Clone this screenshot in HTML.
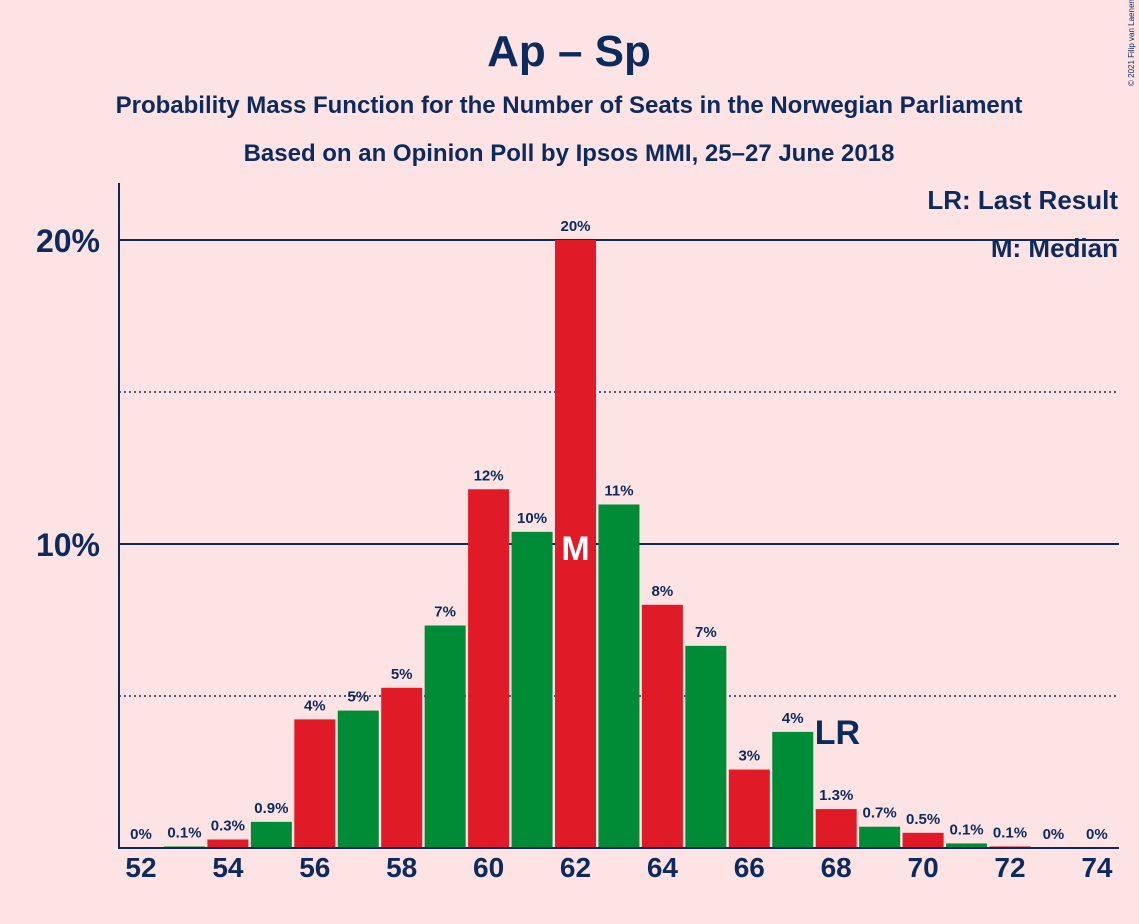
<!DOCTYPE html>
<html><head><meta charset="utf-8">
<style>
html,body{margin:0;padding:0;background:#fde3e4;}
svg{display:block;font-family:"Liberation Sans",sans-serif;}
</style></head>
<body>
<svg id="chart" width="1139" height="924" viewBox="0 0 1139 924">
<rect width="1139" height="924" fill="#fde3e4"/>
<text x="569" y="66" text-anchor="middle" font-size="44" font-weight="bold" fill="#0c2a5c">Ap – Sp</text>
<text x="569" y="113" text-anchor="middle" font-size="24" font-weight="bold" fill="#0c2a5c">Probability Mass Function for the Number of Seats in the Norwegian Parliament</text>
<text x="569" y="161" text-anchor="middle" font-size="24" font-weight="bold" fill="#0c2a5c">Based on an Opinion Poll by Ipsos MMI, 25–27 June 2018</text>
<text transform="translate(1134,86) rotate(-90)" font-size="8" fill="#0c2a5c">© 2021 Filip van Laenen</text>
<g id="grid"></g>
<g id="bars"></g>
<g id="labels"></g>
<line x1="119" y1="183" x2="119" y2="849" stroke="#0c2a5c" stroke-width="2"/>
<line x1="119" y1="848" x2="1119" y2="848" stroke="#0c2a5c" stroke-width="2"/>
<text x="1118" y="209" text-anchor="end" font-size="26" font-weight="bold" fill="#0c2a5c">LR: Last Result</text>
<text x="1118" y="257" text-anchor="end" font-size="26" font-weight="bold" fill="#0c2a5c">M: Median</text>
</svg>
<script>
const seats = [52,53,54,55,56,57,58,59,60,61,62,63,64,65,66,67,68,69,70,71,72,73,74];
const probs = [0,0.05,0.28,0.86,4.23,4.52,5.27,7.32,11.8,10.4,20,11.3,8.0,6.65,2.58,3.82,1.28,0.7,0.5,0.15,0.05,0,0];
const probLabels = ["0%","0.1%","0.3%","0.9%","4%","5%","5%","7%","12%","10%","20%","11%","8%","7%","3%","4%","1.3%","0.7%","0.5%","0.1%","0.1%","0%","0%"];
const yTicks = [10,20];
const yDotted = [5,15];
const yTickLabels = ["10%","20%"];
const xTickSeats = [52,54,56,58,60,62,64,66,68,70,72,74];
const medianSeat = 62;
const lastResultSeat = 67;

const NS="http://www.w3.org/2000/svg";
const xScale = s => 141 + (s-52)*43.45;
const yScale = v => 848 - v*30.4;
const grid=document.getElementById('grid'), bars=document.getElementById('bars'), labels=document.getElementById('labels');
function mk(tag,attrs,parent,txt){const e=document.createElementNS(NS,tag);for(const k in attrs)e.setAttribute(k,attrs[k]);if(txt!==undefined)e.textContent=txt;parent.appendChild(e);return e;}

yDotted.forEach(v=>{
  const l=mk('line',{x1:119,x2:1119,y1:yScale(v),y2:yScale(v),stroke:'#0c2a5c','stroke-width':1.5,'stroke-dasharray':'2,3'},grid);
  
  
});
yTicks.forEach((v,i)=>{
  const l=mk('line',{x1:119,x2:1119,y1:yScale(v),y2:yScale(v),stroke:'#0c2a5c','stroke-width':2},grid);
  
  
  const t=mk('text',{x:100,y:yScale(v)+12,'text-anchor':'end','font-size':32,'font-weight':'bold',fill:'#0c2a5c'},grid,yTickLabels[i]);
  
  
});
seats.forEach((s,i)=>{
  const x=xScale(s), y=yScale(probs[i]);
  const r=mk('rect',{x:x-20.5,y:y,width:41,height:848-y,fill:(s%2===0)?'#e01a27':'#008c37'},bars);
  
  
  const t=mk('text',{x:x,y:y-9,'text-anchor':'middle','font-size':15,'font-weight':'bold',fill:'#0c2a5c'},labels,probLabels[i]);
  
  
  if(s===medianSeat){
    const m=mk('text',{x:x,y:yScale(10)+16,'text-anchor':'middle','font-size':34,'font-weight':'bold',fill:'#ffffff'},labels,'M');
    
    
  }
  if(s===lastResultSeat){
    const m=mk('text',{x:x+22,y:y+12,'font-size':34,'font-weight':'bold',fill:'#0c2a5c'},labels,'LR');
    
    
  }
});
xTickSeats.forEach(s=>{
  const t=mk('text',{x:xScale(s),y:877,'text-anchor':'middle','font-size':28,'font-weight':'bold',fill:'#0c2a5c'},labels,String(s));
  
  
});
</script>
</body></html>
